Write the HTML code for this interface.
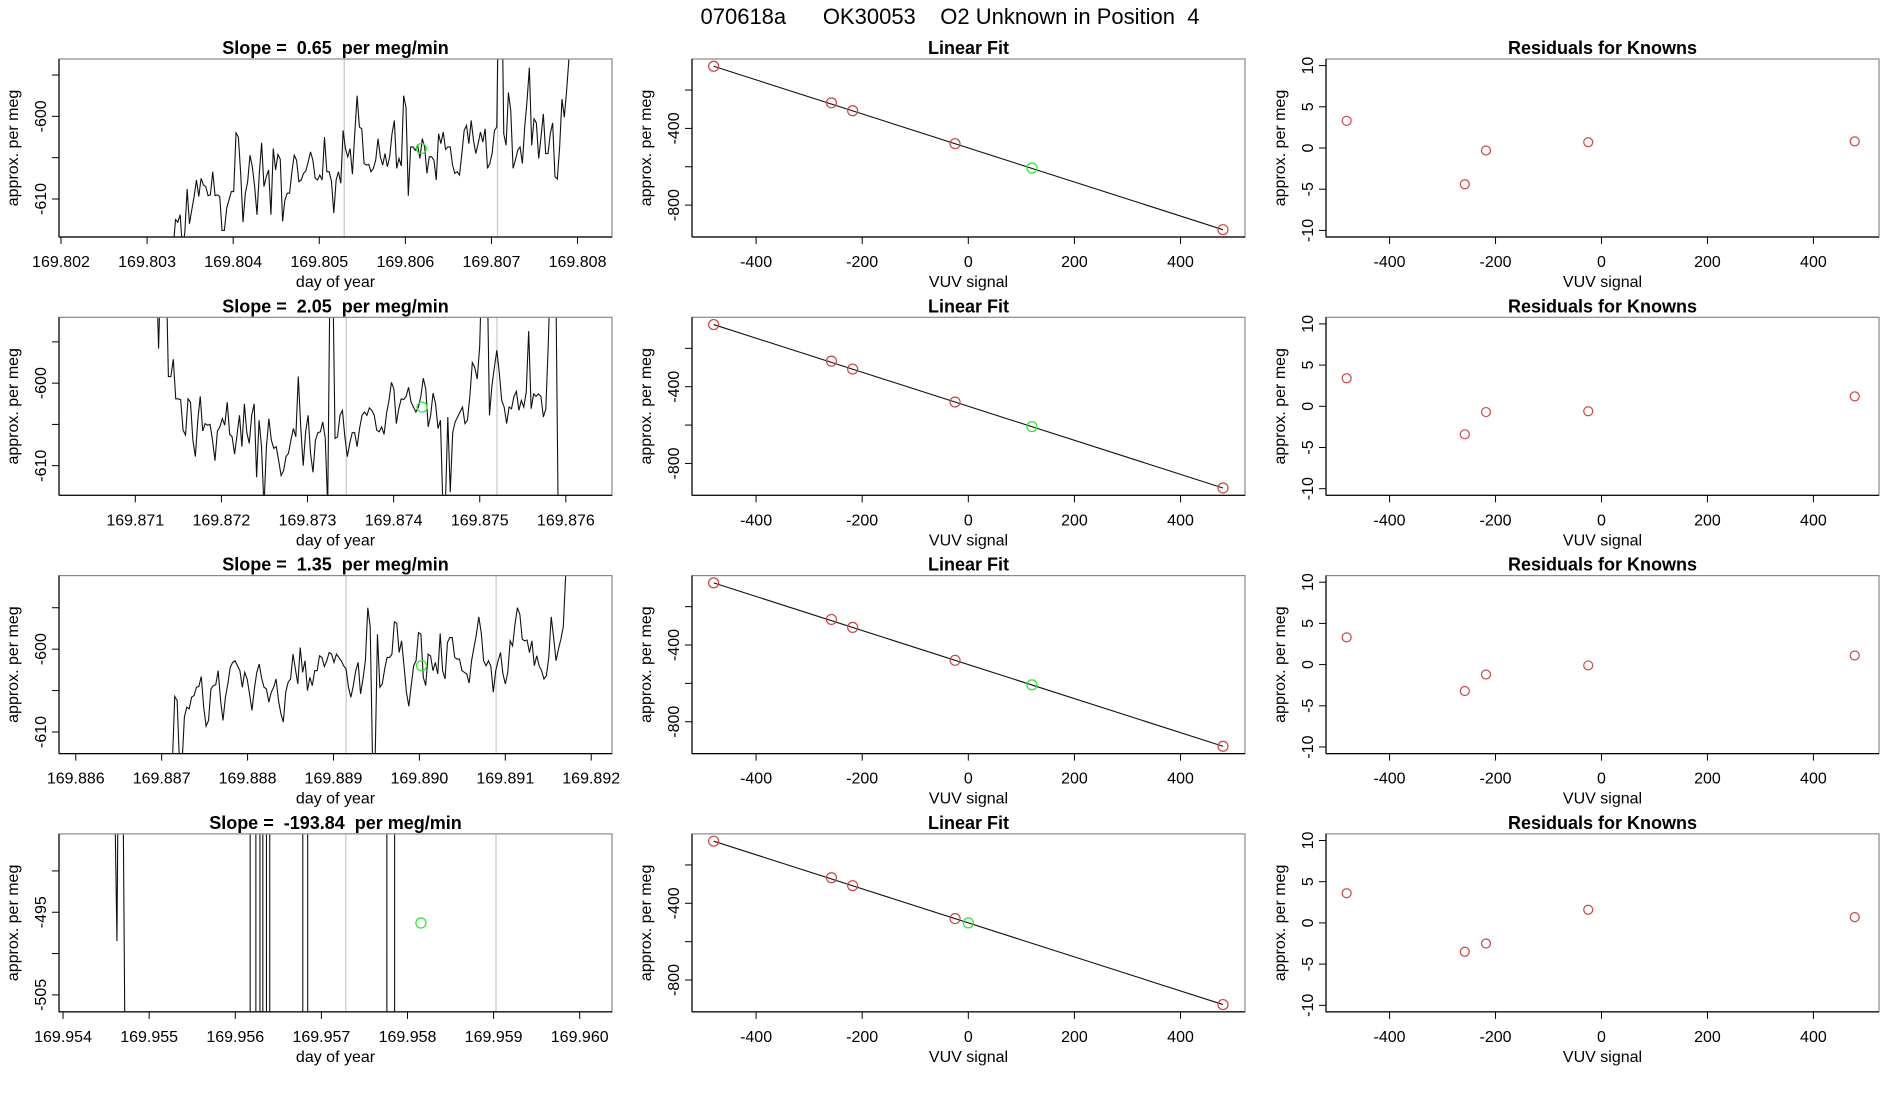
<!DOCTYPE html>
<html><head><meta charset="utf-8">
<style>
html,body{margin:0;padding:0;background:#fff;width:1900px;height:1100px;overflow:hidden;}
svg{display:block;}
text{font-family:"Liberation Sans",Arial,sans-serif;fill:#000;white-space:pre;}
</style></head>
<body>
<svg id="chart" width="1900" height="1100" viewBox="0 0 1900 1100" xmlns="http://www.w3.org/2000/svg" xml:space="preserve">
<rect x="0" y="0" width="1900" height="1100" fill="#fff"/>
<text x="950" y="24" font-size="22" text-anchor="middle" xml:space="preserve">070618a      OK30053    O2 Unknown in Position  4</text>
</svg>
<script>
// ---------- time-series panels (column 1) ----------
const tsSlopes = ["0.65", "2.05", "1.35", "-193.84"];
const tsXTicks = [
  [169.802,169.803,169.804,169.805,169.806,169.807,169.808],
  [169.871,169.872,169.873,169.874,169.875,169.876],
  [169.886,169.887,169.888,169.889,169.890,169.891,169.892],
  [169.954,169.955,169.956,169.957,169.958,169.959,169.960]
];
const tsYTicks = [[-595,-600,-605,-610],[-595,-600,-605,-610],[-595,-600,-605,-610],[-490,-495,-500,-505]];
const tsYLabels = [[-600,-610],[-600,-610],[-600,-610],[-495,-505]];
const tsXRange = [[169.801977,169.8084],[169.870114,169.876536],[169.885805,169.892242],[169.953953,169.960375]];
const tsYRange = [[-614.6,-593.06],[-613.59,-592.02],[-612.61,-591.12],[-507.06,-485.52]];
const tsStart = [169.803303, 169.871242, 169.887124];
const tsEnd = [169.807900, 169.875910, 169.891703];
const tsGrey = [[169.80529,169.80707],[169.87345,169.87520],[169.889147,169.890893],[169.957284,169.959028]];
const tsGreenX = [169.806185, 169.87433, 169.890024, 169.958156];
const tsGreenY = [-603.9, -602.9, -602.0, -496.3];

const series1 = [-616,-612.5,-612.8,-611.9,-616,-614.1,-608.8,-613,-611.3,-609.7,-607.7,-609.7,-607.5,-608.3,-608.5,-609.6,-609.5,-606.7,-609.6,-609.5,-609.7,-613.8,-613.8,-611.1,-610.1,-609.1,-609.1,-602,-602.5,-606.9,-612.8,-609.3,-607.9,-604.7,-606.1,-608.5,-611.9,-606.9,-603.2,-608.5,-607.3,-606.5,-611.9,-603.9,-606.5,-604.6,-605.2,-612.7,-610.1,-609.3,-609.3,-606.7,-604.7,-605.3,-607.9,-607.7,-606.9,-606.6,-605.5,-604.3,-605.3,-607.5,-607.7,-607.1,-607.7,-602.5,-606.7,-606.7,-607.9,-611.7,-607.7,-606.7,-608.1,-601.7,-603.9,-604.9,-603.9,-607,-602.1,-597.5,-601.3,-601.5,-605.7,-605.9,-605.8,-606.7,-606.3,-605.3,-602.7,-604.9,-605.9,-604.5,-606.1,-604.9,-602.1,-600.5,-606.3,-605.1,-606,-597.5,-598.9,-609.6,-603.7,-603.7,-604.1,-603.5,-605.1,-602.7,-603.7,-606.9,-604.9,-604.9,-605.3,-607.7,-602.1,-603.3,-601.9,-604,-603.7,-603.7,-605.9,-606.9,-606.7,-607.1,-604.5,-601.7,-601.1,-603.3,-600.5,-602.9,-604.5,-603.3,-601.9,-603.1,-601.5,-606.3,-605.7,-604.5,-601.7,-601.3,-580,-580,-602.1,-603.5,-597.1,-599.3,-606.3,-605.3,-604.1,-603.7,-605.7,-601.3,-598.1,-594.1,-603.5,-600.3,-600.8,-605.1,-602.5,-599.7,-604.5,-604.5,-602.1,-600.8,-607.3,-607.6,-603.7,-597.9,-600.1,-596.9,-593];
const series2 = [-585,-595.8,-585,-585,-585,-599.2,-599.2,-597.1,-601.9,-601.9,-602,-605.7,-606.3,-601.9,-602.3,-606.9,-608.9,-604.5,-601.6,-605.8,-604.9,-605.1,-605,-606.9,-609.4,-605.8,-605.3,-604.3,-605.1,-602.3,-606.2,-606.5,-608.6,-606.3,-603.9,-607.7,-602.5,-606,-607.3,-603.9,-602.5,-611.4,-604.5,-607.7,-615,-607.7,-604.3,-606.9,-607.9,-607.7,-609.4,-611.2,-610.6,-608.9,-608.5,-606.9,-605.5,-606.5,-599.2,-605.3,-610,-605.9,-603.9,-608.5,-610.8,-606.9,-606,-605.9,-604.7,-606.7,-615,-585,-585,-606.7,-606.5,-603.9,-603.3,-606.5,-608.9,-607.3,-606,-606,-607.7,-605.5,-603.9,-603.5,-603.9,-603,-603.3,-603.9,-605.7,-605.9,-605.3,-606.2,-603.7,-602.1,-599.9,-600.7,-604.9,-603.1,-601.9,-602,-601.6,-600.5,-602.3,-602.9,-603.5,-602.9,-601.6,-599.4,-600.7,-605.3,-603.9,-601.2,-602.5,-605.5,-604.5,-615,-615,-604.1,-613.2,-606,-604.7,-604.1,-603.5,-602.9,-604.9,-604.5,-601.6,-597.5,-598.1,-599.5,-595.6,-585,-585,-585,-603.9,-600.3,-598.1,-596,-598.7,-602.1,-602.9,-604.9,-602.9,-603.1,-601.6,-601,-603.3,-602.1,-602.9,-601.1,-593.7,-603.1,-601.3,-601.6,-601.3,-601.6,-604.1,-603.1,-595.2,-585,-585,-585,-615];
const series3 = [-614,-605.7,-606.2,-614,-614,-608.2,-607,-607.2,-605.8,-605.6,-604.6,-604.5,-603.3,-607,-609.3,-608.6,-604.8,-604.4,-604.3,-602.6,-606.2,-608.6,-605.8,-604.2,-602.2,-601.6,-601.4,-602,-602.6,-604.6,-602.8,-603.6,-605.4,-607.4,-604.8,-602.8,-601.8,-603.5,-604.6,-604.8,-606.4,-605.2,-604.6,-603.6,-606.2,-607.8,-608.8,-605.2,-604,-603.6,-600.6,-602.4,-604.2,-599.8,-602.8,-601.4,-605,-603.4,-604.4,-602.6,-602.6,-600.8,-601,-602.1,-601.4,-600.4,-600.6,-601.6,-600.6,-601,-601.4,-602,-602.4,-604.6,-605.8,-604.4,-602.6,-601.6,-605.4,-603.6,-601.4,-595,-597.3,-614,-614,-598.2,-604.6,-604.2,-602.4,-601,-601,-600.6,-596.7,-596.9,-600.4,-599,-602,-605.2,-606.9,-604.4,-602,-601.4,-598,-598.2,-603.4,-604.4,-600.6,-600.8,-602.6,-601.6,-603,-598.1,-602.6,-603.6,-599.2,-598.6,-598.6,-601,-601.2,-601.2,-602.6,-602.8,-603,-604.1,-601.4,-599.8,-598.2,-596.1,-598,-601.4,-602,-601.4,-602.1,-605.2,-602.6,-601.4,-600.4,-603,-604.2,-602.8,-599,-599.6,-597,-595,-595.8,-598.8,-599,-598.9,-600.4,-599,-602,-600.8,-602,-602.6,-603.6,-603.2,-601,-596.1,-598.6,-601.4,-600,-598.8,-597.3,-591];
const series4Time = [169.954545,169.954607,169.954626,169.954668,169.954754,169.9561706,169.9561754,169.9562369,169.9562417,169.9562843,169.9562890,169.9563175,169.9563222,169.9563600,169.9563647,169.9563979,169.9564026,169.9567818,169.9567866,169.9568387,169.9568434,169.9577580,169.9577628,169.9578481,169.9578528,169.9580045];
const series4Vals = [-440,-485.5,-498.5,-440,-560,-3000,2000,2000,-3000,-3000,2000,2000,-3000,-3000,2000,2000,-3000,-3000,2000,2000,-3000,-3000,2000,2000,-3000,-3000];

// ---------- linear fit + residuals (columns 2,3) ----------
const knownX = [-480, -258, -218, -25, 480];
const knownY = [-76, -266.7, -308, -479.7, -928];
const fitIntercept = -502;
const fitSlope = -0.8875;
const unkX = [120, 120, 120, 0];
const unkY = [-606.5, -608, -608, -502];
const residX = [-481, -258, -218, -25, 478];
const resid = [
  [3.3, -4.4, -0.3, 0.7, 0.8],
  [3.4, -3.4, -0.7, -0.6, 1.2],
  [3.3, -3.2, -1.2, -0.1, 1.1],
  [3.6, -3.5, -2.5, 1.6, 0.7]
];
const fitXTicks = [-400, -200, 0, 200, 400];
const fitYTicks = [-200, -400, -600, -800];
const fitYLabels = [-400, -800];
const resYTicks = [10, 5, 0, -5, -10];

const NS = "http://www.w3.org/2000/svg";
const svg = document.getElementById('chart');
function el(tag, attrs, parent) {
  const e = document.createElementNS(NS, tag);
  for (const k in attrs) e.setAttribute(k, attrs[k]);
  (parent || svg).appendChild(e);
  return e;
}
const colLeft = [59, 692, 1326];
const boxW = 553, boxH = 178;
function rowTop(i) { return 59 + 258.3 * i; }

function frame(g, L, T, xs, ys, xTicks, yTicks, yLabels, xFmt, xTitle, title, name) {
  const R = L + boxW, B = T + boxH;
  const bx = el('rect', {x: L, y: T, width: boxW, height: boxH, fill: 'none', stroke: '#888', 'stroke-width': 1.2}, g);
  
  
  const ax = el('line', {x1: L, y1: B, x2: R, y2: B, stroke: '#000', 'stroke-width': 1.2}, g);
  
  
  const ay = el('line', {x1: L, y1: T, x2: L, y2: B, stroke: '#000', 'stroke-width': 1.2}, g);
  
  
  xTicks.forEach(v => {
    const x = xs(v);
    const t = el('line', {x1: x, y1: B, x2: x, y2: B + 7, stroke: '#000'}, g);
    
    
    const lb = el('text', {x: x, y: B + 30, 'font-size': 16, 'text-anchor': 'middle'}, g);
    lb.textContent = xFmt(v);
    
    
  });
  yTicks.forEach(v => {
    const y = ys(v);
    const t = el('line', {x1: L - 7, y1: y, x2: L, y2: y, stroke: '#000'}, g);
    
    
  });
  yLabels.forEach(v => {
    const y = ys(v);
    const lb = el('text', {x: 0, y: 0, 'font-size': 16, 'text-anchor': 'middle', transform: 'translate(' + (L - 13) + ',' + y + ') rotate(-90)'}, g);
    lb.textContent = String(v);
    
    
  });
  const xt = el('text', {x: L + boxW / 2, y: B + 50, 'font-size': 16, 'text-anchor': 'middle'}, g);
  xt.textContent = xTitle;
  
  
  const yt = el('text', {x: 0, y: 0, 'font-size': 16, 'text-anchor': 'middle', transform: 'translate(' + (L - 41) + ',' + (T + boxH / 2) + ') rotate(-90)'}, g);
  yt.textContent = 'approx. per meg';
  
  
  const tt = el('text', {x: L + boxW / 2, y: T - 5, 'font-size': 18, 'font-weight': 'bold', 'text-anchor': 'middle'}, g);
  tt.setAttributeNS('http://www.w3.org/XML/1998/namespace', 'xml:space', 'preserve');
  tt.textContent = title;
  
  
}
function clipFor(id, L, T) {
  const cp = el('clipPath', {id: id});
  el('rect', {x: L, y: T, width: boxW, height: boxH}, cp);
  return 'url(#' + id + ')';
}

const seriesVals = [series1, series2, series3];
for (let r = 0; r < 4; r++) {
  const T = rowTop(r);
  {
    const L = colLeft[0];
    const g = el('g', {});
    
    
    const xr = tsXRange[r], yr = tsYRange[r];
    const xs = v => L + (v - xr[0]) / (xr[1] - xr[0]) * boxW;
    const ys = v => T + boxH - (v - yr[0]) / (yr[1] - yr[0]) * boxH;
    const clip = clipFor('clipts' + r, L, T);
    tsGrey[r].forEach(d => {
      const l = el('line', {x1: xs(d), y1: T, x2: xs(d), y2: T + boxH, stroke: '#c8c8c8', 'stroke-width': 1.2}, g);
      
      
    });
    let pts;
    if (r < 3) {
      const vals = seriesVals[r];
      const n = vals.length;
      pts = vals.map((v, i) => xs(tsStart[r] + (tsEnd[r] - tsStart[r]) * i / (n - 1)).toFixed(2) + ',' + ys(v).toFixed(2));
    } else {
      pts = series4Vals.map((v, i) => xs(series4Time[i]).toFixed(2) + ',' + ys(v).toFixed(2));
    }
    const pl = el('polyline', {points: pts.join(' '), fill: 'none', stroke: '#111', 'stroke-width': 1.1, 'clip-path': clip}, g);
    
    
    const gc = el('circle', {cx: xs(tsGreenX[r]), cy: ys(tsGreenY[r]), r: 5, fill: 'none', stroke: '#22ee22', 'stroke-width': 1.2}, g);
    
    
    frame(g, L, T, xs, ys, tsXTicks[r], tsYTicks[r], tsYLabels[r], v => v.toFixed(3), 'day of year', 'Slope =  ' + tsSlopes[r] + '  per meg/min', 'time-series-' + (r + 1));
  }
  {
    const L = colLeft[1];
    const g = el('g', {});
    
    
    const xs = v => L + (v + 520.8) / (521.5 + 520.8) * boxW;
    const ys = v => T + boxH - (v + 966.2) / (-38.1 + 966.2) * boxH;
    const x0 = knownX[0], x1 = knownX[knownX.length - 1];
    const fl = el('line', {x1: xs(x0), y1: ys(fitIntercept + fitSlope * x0), x2: xs(x1), y2: ys(fitIntercept + fitSlope * x1), stroke: '#111', 'stroke-width': 1.1}, g);
    
    
    knownX.forEach((x, i) => {
      const c = el('circle', {cx: xs(x), cy: ys(knownY[i]), r: 5, fill: 'none', stroke: '#cc4444', 'stroke-width': 1.2}, g);
      
      
    });
    const gc = el('circle', {cx: xs(unkX[r]), cy: ys(unkY[r]), r: 5, fill: 'none', stroke: '#22ee22', 'stroke-width': 1.2}, g);
    
    
    frame(g, L, T, xs, ys, fitXTicks, fitYTicks, fitYLabels, v => String(v), 'VUV signal', 'Linear Fit', 'linear-fit-' + (r + 1));
  }
  {
    const L = colLeft[2];
    const g = el('g', {});
    
    
    const xs = v => L + (v + 520) / (523.8 + 520) * boxW;
    const ys = v => T + boxH - (v + 10.8) / 21.6 * boxH;
    residX.forEach((x, i) => {
      const c = el('circle', {cx: xs(x), cy: ys(resid[r][i]), r: 4.5, fill: 'none', stroke: '#cc4444', 'stroke-width': 1.2}, g);
      
      
    });
    frame(g, L, T, xs, ys, fitXTicks, resYTicks, resYTicks, v => String(v), 'VUV signal', 'Residuals for Knowns', 'residuals-' + (r + 1));
  }
}
</script>
</body></html>
